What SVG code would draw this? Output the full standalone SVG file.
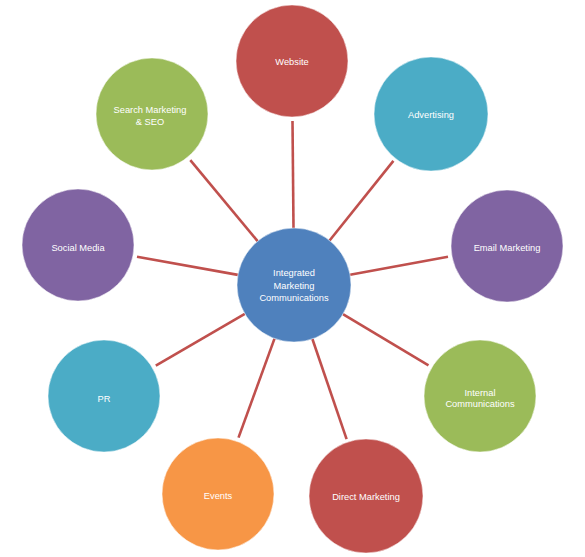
<svg xmlns="http://www.w3.org/2000/svg" width="585" height="557" viewBox="0 0 585 557">
<style>
.n{stroke:#ffffff;stroke-opacity:0.5;stroke-width:1}
.t{font-family:"Liberation Sans",Arial,sans-serif;font-size:9.3px;fill:#ffffff;text-anchor:middle}
.c line{stroke:#C0504D;stroke-width:2.6}
</style>
<rect width="585" height="557" fill="#ffffff"/>
<g class="c" id="connectors">
<line x1="293.5" y1="228" x2="292.5" y2="121"/>
<line x1="329.6" y1="240.5" x2="393.4" y2="160.9"/>
<line x1="350.1" y1="274.7" x2="448" y2="256.8"/>
<line x1="342.9" y1="314.2" x2="428.5" y2="365.3"/>
<line x1="312.4" y1="339" x2="346.6" y2="439.2"/>
<line x1="274.5" y1="338.6" x2="238.5" y2="437.6"/>
<line x1="244.8" y1="313.8" x2="155.8" y2="365.7"/>
<line x1="237.9" y1="274.9" x2="137" y2="256.7"/>
<line x1="257.6" y1="241.2" x2="190.3" y2="160.2"/>
</g>
<g id="center"><circle class="n" cx="294" cy="285" r="57" fill="#4F81BD"/>
<text class="t" x="294" y="276">Integrated</text><text class="t" x="294" y="288.5">Marketing</text><text class="t" x="294" y="301">Communications</text></g>
<g id="website"><circle class="n" cx="292" cy="61" r="56" fill="#C0504D"/><text class="t" x="292" y="65">Website</text></g>
<g id="advertising"><circle class="n" cx="431" cy="114" r="57" fill="#4BACC6"/><text class="t" x="431" y="118">Advertising</text></g>
<g id="email"><circle class="n" cx="507" cy="246" r="56" fill="#8064A2"/><text class="t" x="507" y="251">Email Marketing</text></g>
<g id="internal"><circle class="n" cx="480" cy="396" r="56" fill="#9BBB59"/><text class="t" x="480" y="396">Internal</text><text class="t" x="480" y="407">Communications</text></g>
<g id="direct"><circle class="n" cx="366" cy="496" r="57" fill="#C0504D"/><text class="t" x="366" y="500">Direct Marketing</text></g>
<g id="events"><circle class="n" cx="218" cy="494" r="56" fill="#F79646"/><text class="t" x="218" y="499">Events</text></g>
<g id="pr"><circle class="n" cx="104" cy="396" r="56" fill="#4BACC6"/><text class="t" x="104" y="402">PR</text></g>
<g id="social"><circle class="n" cx="78" cy="245" r="56" fill="#8064A2"/><text class="t" x="78" y="251">Social Media</text></g>
<g id="search"><circle class="n" cx="152" cy="114" r="56" fill="#9BBB59"/><text class="t" x="150" y="113">Search Marketing</text><text class="t" x="150" y="125">&amp; SEO</text></g>
</svg>
